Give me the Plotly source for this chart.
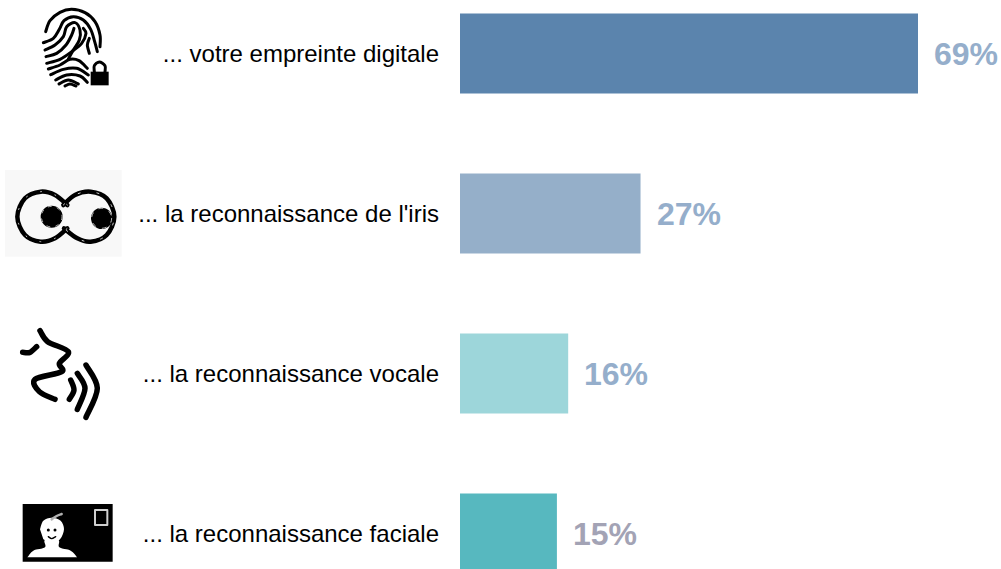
import plotly.graph_objects as go

categories = ["... votre empreinte digitale", "... la reconnaissance de l'iris",
              "... la reconnaissance vocale", "... la reconnaissance faciale"]
values = [69, 27.2, 16.3, 14.6]   # drawn bar lengths
value_labels = ["69%", "27%", "16%", "15%"]
bar_colors = ["#5b84ad", "#95afc9", "#9dd6da", "#57b8bf"]
label_colors = ["#95aecb", "#95aecb", "#95aecb", "#a3a3b5"]

W, H, L = 1001, 569, 460


def px(x):
    return (x - L) / (W - L)


def py(y):
    return 1 - y / H


def spline(pts, ox, oy, closed=False):
    P = [(ox + x / 3, oy + y / 3) for x, y in pts]
    f = lambda p: f"{px(p[0]):.5f},{py(p[1]):.5f}"
    d = "M" + f(P[0])
    n = len(P)
    for i in range(n - 1):
        p0 = P[max(i - 1, 0)]; p1 = P[i]; p2 = P[i + 1]; p3 = P[min(i + 2, n - 1)]
        c1 = (p1[0] + (p2[0] - p0[0]) / 6, p1[1] + (p2[1] - p0[1]) / 6)
        c2 = (p2[0] - (p3[0] - p1[0]) / 6, p2[1] - (p3[1] - p1[1]) / 6)
        d += f" C{f(c1)} {f(c2)} {f(p2)}"
    return d + (" Z" if closed else "")


shapes = []


def stroke(pts, ox, oy, w, color="black", dash=None):
    line = dict(color=color, width=w)
    if dash:
        line["dash"] = dash
    shapes.append(dict(type="path", xref="paper", yref="paper", path=spline(pts, ox, oy),
                       line=line, fillcolor="rgba(0,0,0,0)", layer="above"))


def fill(pts, ox, oy, color="black"):
    shapes.append(dict(type="path", xref="paper", yref="paper", path=spline(pts, ox, oy, True),
                       line=dict(width=0), fillcolor=color, layer="above"))


def rect(x0, y0, x1, y1, ox, oy, fc="black", lc=None, w=0):
    shapes.append(dict(type="rect", xref="paper", yref="paper",
                       x0=px(ox + x0 / 3), x1=px(ox + x1 / 3), y0=py(oy + y0 / 3), y1=py(oy + y1 / 3),
                       fillcolor=fc, line=dict(color=lc or "rgba(0,0,0,0)", width=w), layer="above"))


def circle(cx, cy, r, ox, oy, fc="black", lc=None, w=0, dash=None):
    line = dict(color=lc or "rgba(0,0,0,0)", width=w)
    if dash:
        line["dash"] = dash
    shapes.append(dict(type="circle", xref="paper", yref="paper",
                       x0=px(ox + (cx - r) / 3), x1=px(ox + (cx + r) / 3),
                       y0=py(oy + (cy - r) / 3), y1=py(oy + (cy + r) / 3),
                       fillcolor=fc, line=line, layer="above"))


# --- fingerprint icon ---
ridges = [
    [(137, 95), (150, 62), (180, 37), (215, 28), (255, 38), (285, 65), (300, 105), (300, 140)],
    [(130, 128), (160, 115), (178, 88), (192, 62), (220, 50), (250, 60), (272, 88), (284, 125), (292, 155)],
    [(135, 150), (165, 135), (190, 110), (200, 80), (225, 68), (240, 90), (238, 120), (220, 150), (205, 177)],
    [(138, 170), (170, 160), (198, 135), (215, 105), (222, 85)],
    [(140, 190), (180, 178), (215, 155), (245, 130), (258, 100), (250, 85)],
    [(145, 207), (180, 195), (210, 178), (237, 182), (262, 205)],
    [(152, 224), (190, 208), (230, 205), (265, 225)],
    [(167, 240), (200, 225), (240, 228), (262, 247)],
    [(177, 252), (205, 240), (235, 252)],
    [(195, 258), (210, 252), (228, 258)],
    [(268, 160), (262, 135), (268, 115)],
]
for r in ridges:
    stroke(r, 0, 0, 3)
rect(272, 215, 326, 256, 0, 0)
stroke([(283, 215), (283, 197), (298, 186), (315, 197), (315, 215)], 0, 0, 3)

# --- eyes icon ---
rect(15, 30, 365, 290, 0, 160, fc="#f8f8f8")
left_ring = [(202, 135), (165, 105), (122, 95), (75, 115), (52, 170), (75, 225), (122, 245), (165, 235), (202, 205)]
right_ring = [(190, 135), (225, 105), (272, 95), (320, 115), (343, 170), (320, 225), (272, 245), (232, 235), (192, 205)]
stroke(left_ring, 0, 160, 4.5)
stroke(right_ring, 0, 160, 4.5)
stroke(left_ring, 0, 160, 0.8, "white", "1px,14px")
stroke(right_ring, 0, 160, 0.8, "white", "2px,17px")
circle(155, 170, 33, 0, 160)
circle(305, 175, 32, 0, 160)
circle(155, 170, 31, 0, 160, fc="rgba(0,0,0,0)", lc="white", w=0.7, dash="3px,6px")
circle(305, 175, 30, 0, 160, fc="rgba(0,0,0,0)", lc="white", w=0.7, dash="4px,7px")

# --- voice icon ---
stroke([(120, 32), (143, 65), (205, 95), (178, 130), (185, 155), (105, 178), (118, 215), (165, 238)], 0, 320, 5.5)
stroke([(68, 97), (90, 97), (110, 80)], 0, 320, 5.5)
stroke([(212, 180), (222, 210), (208, 238)], 0, 320, 5.5)
stroke([(232, 160), (255, 205), (232, 268)], 0, 320, 5.5)
stroke([(258, 135), (292, 205), (258, 292)], 0, 320, 5.5)

# --- face icon ---
rect(68, 42, 338, 215, 0, 490)
rect(285, 60, 322, 105, 0, 490, fc="rgba(0,0,0,0)", lc="#d0d0d0", w=2)
fill([(82, 202), (100, 182), (135, 172), (135, 150), (175, 150), (178, 172), (212, 182), (232, 202)], 0, 490, "white")
fill([(120, 118), (130, 92), (155, 83), (182, 92), (192, 118), (180, 148), (155, 160), (130, 148)], 0, 490, "white")
stroke([(155, 88), (170, 78), (185, 72)], 0, 490, 2.5, "#b0b0b0")
circle(145, 120, 4.5, 0, 490)
circle(165, 120, 4.5, 0, 490)
stroke([(145, 140), (155, 146), (167, 140)], 0, 490, 1.4)

fig = go.Figure()
fig.add_trace(go.Bar(
    y=categories, x=values, orientation="h", width=0.5,
    marker=dict(color=bar_colors, line=dict(width=0)),
    hoverinfo="skip", showlegend=False,
))

annotations = [
    dict(x=v, y=c, text=t, xref="x", yref="y", xanchor="left", yanchor="middle", showarrow=False,
         xshift=14, yshift=-1, font=dict(family="Liberation Sans", size=32, color=col, weight="bold"))
    for v, c, t, col in zip(values, categories, value_labels, label_colors)
]

fig.update_layout(
    width=W, height=H, autosize=False,
    margin=dict(l=L, r=0, t=0, b=0, pad=0),
    paper_bgcolor="white", plot_bgcolor="white",
    bargap=0.5,
    xaxis=dict(range=[0, 541 / (458 / 69)], visible=False, fixedrange=True),
    yaxis=dict(type="category", categoryorder="array", categoryarray=categories,
               range=[3.222, -0.334], showgrid=False, zeroline=False, showline=False,
               ticks="", ticklabelstandoff=20, fixedrange=True,
               tickfont=dict(family="Liberation Sans", size=24, color="black")),
    shapes=shapes, annotations=annotations,
)

post = """
document.body.style.margin='0';
var s=document.createElement('style');
s.textContent='.shapelayer path{stroke-linecap:round;stroke-linejoin:round}';
document.head.appendChild(s);
"""
fig.write_html("out.html", post_script=post, config={"displayModeBar": False})
